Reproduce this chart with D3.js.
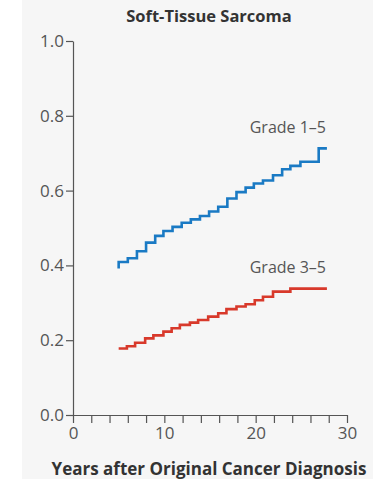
<!DOCTYPE html>
<html>
<head>
<meta charset="utf-8">
<script src="https://cdn.jsdelivr.net/npm/d3@7"></script>
<style>
  body { margin: 0; background: #fff; }
  svg { display: block; font-family: "Open Sans", "Noto Sans", sans-serif; }
  .axis path, .axis line { stroke: #555; stroke-width: 1.2; }
  .axis text { fill: #555; }
</style>
</head>
<body>
<script>
// cumulative incidence, step times (years) and values
var grade15Years = [5, 5, 6, 7, 8, 9, 9.9, 10.9, 11.9, 12.9, 13.9, 14.9, 15.9, 16.9, 17.9, 18.9, 19.8, 20.8, 21.9, 22.9, 23.8, 24.9, 26.9, 27.8];
var grade15Vals  = [0.392, 0.409, 0.419, 0.438, 0.461, 0.479, 0.492, 0.503, 0.514, 0.523, 0.532, 0.544, 0.557, 0.579, 0.596, 0.608, 0.619, 0.627, 0.641, 0.657, 0.666, 0.677, 0.713, 0.713];

var grade35Years = [5, 5.9, 6.8, 7.9, 8.8, 9.9, 10.8, 11.7, 12.8, 13.7, 14.8, 15.9, 16.8, 17.9, 18.9, 19.9, 20.8, 21.9, 23.8, 27.8];
var grade35Vals  = [0.178, 0.184, 0.193, 0.205, 0.213, 0.223, 0.232, 0.241, 0.247, 0.254, 0.263, 0.272, 0.283, 0.290, 0.296, 0.307, 0.316, 0.330, 0.338, 0.338];

var xTicks = [0, 2, 4, 6, 8, 10, 12, 14, 16, 18, 20, 22, 24, 26, 28, 30];
var xLabels = [0, 10, 20, 30];
var yTicks = [0, 0.2, 0.4, 0.6, 0.8, 1.0];

var width = 386, height = 479;
var margin = {top: 41, left: 73, right: 39, bottom: 64};

var svg = d3.select("body").append("svg")
    .attr("width", width)
    .attr("height", height);

// light panel background
svg.append("rect")
    .attr("x", 22).attr("y", 0)
    .attr("width", 351).attr("height", height)
    .attr("fill", "#f6f6f6");

var x = d3.scaleLinear().domain([0, 30]).range([margin.left, width - margin.right]);
var y = d3.scaleLinear().domain([0, 1]).range([height - margin.bottom, margin.top]);

// title
svg.append("text")
    .attr("x", 209).attr("y", 22)
    .attr("text-anchor", "middle")
    .style("font-size", "16.5px")
    .style("font-weight", "bold")
    .attr("fill", "#333")
    .text("Soft-Tissue Sarcoma");

// x axis
var xAxis = svg.append("g")
    .attr("class", "axis")
    .attr("transform", "translate(0," + y(0) + ")")
    .call(d3.axisBottom(x).tickValues(xTicks).tickSize(8).tickSizeOuter(0).tickPadding(4)
      .tickFormat(function(d) { return xLabels.indexOf(d) >= 0 ? d : ""; }));
xAxis.attr("font-size", 17).attr("font-family", "'Open Sans', sans-serif");

// y axis
var yAxis = svg.append("g")
    .attr("class", "axis")
    .attr("transform", "translate(" + x(0) + ",0)")
    .call(d3.axisLeft(y).tickValues(yTicks).tickSize(7).tickSizeOuter(0).tickPadding(2)
      .tickFormat(d3.format(".1f")));
yAxis.attr("font-size", 17).attr("font-family", "'Open Sans', sans-serif");

// x axis title
svg.append("text")
    .attr("x", 209).attr("y", 475)
    .attr("text-anchor", "middle")
    .style("font-size", "17px")
    .style("font-weight", "bold")
    .attr("fill", "#333")
    .text("Years after Original Cancer Diagnosis");

var step = d3.line()
    .x(function(d) { return x(d[0]); })
    .y(function(d) { return y(d[1]); })
    .curve(d3.curveStepAfter);

svg.append("path")
    .attr("d", step(d3.zip(grade15Years, grade15Vals)))
    .attr("fill", "none")
    .attr("stroke", "#1a7ac4")
    .attr("stroke-width", 2.6);

svg.append("path")
    .attr("d", step(d3.zip(grade35Years, grade35Vals)))
    .attr("fill", "none")
    .attr("stroke", "#d8392b")
    .attr("stroke-width", 2.6);

// curve labels
svg.append("text")
    .attr("x", 326).attr("y", 133)
    .attr("text-anchor", "end")
    .style("font-size", "16px")
    .attr("fill", "#555")
    .text("Grade 1–5");

svg.append("text")
    .attr("x", 326).attr("y", 273)
    .attr("text-anchor", "end")
    .style("font-size", "16px")
    .attr("fill", "#555")
    .text("Grade 3–5");
</script>
</body>
</html>
